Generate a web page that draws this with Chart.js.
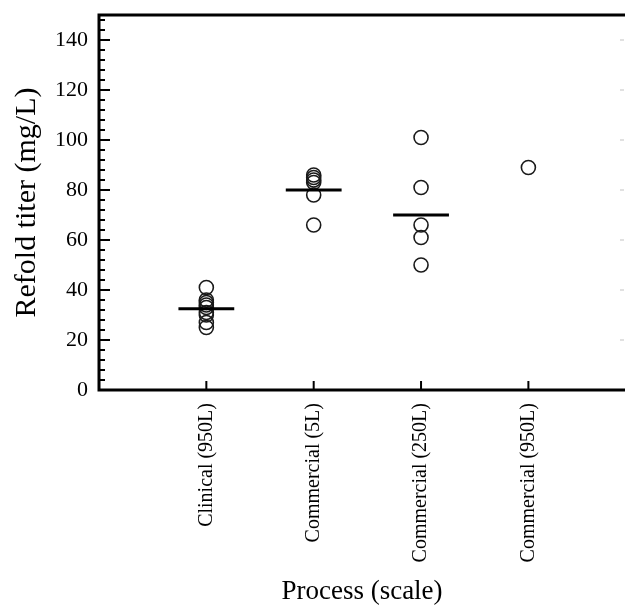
<!DOCTYPE html>
<html>
<head>
<meta charset="utf-8">
<script src="https://cdn.jsdelivr.net/npm/chart.js@4.4.1/dist/chart.umd.min.js"></script>
<style>
  html,body{margin:0;padding:0;background:#fff;}
  #wrap{width:625px;height:605px;}
</style>
</head>
<body>
<div id="wrap"><canvas id="c" width="625" height="605"></canvas></div>
<script>
// ---- data ----
const categories = ["Clinical (950L)", "Commercial (5L)", "Commercial (250L)", "Commercial (950L)"];
const clinical950 = [41, 36, 35, 34, 33, 31, 30, 27, 25];
const commercial5 = [86, 85, 84, 83, 78, 66];
const commercial250 = [101, 81, 66, 61, 50];
const commercial950 = [89];
const groupMeans = [32.5, 80, 70, null];
const yTickLabels = [0, 20, 40, 60, 80, 100, 120, 140];
const yMinorStep = 4;

const groups = [clinical950, commercial5, commercial250, commercial950];
const FONT = "'Liberation Serif', 'Times New Roman', serif";

const pointData = [];
groups.forEach((vals, i) => vals.forEach(v => pointData.push({x: i + 1, y: v})));

const datasets = [{
  type: 'scatter',
  label: 'runs',
  data: pointData,
  pointStyle: 'circle',
  pointRadius: 7,
  pointHoverRadius: 7,
  pointBorderWidth: 1.6,
  borderColor: '#1a1a1a',
  backgroundColor: 'rgba(0,0,0,0)',
  order: 2
}];
groupMeans.forEach((m, i) => {
  if (m === null) return;
  datasets.push({
    type: 'line',
    label: 'mean ' + categories[i],
    data: [{x: i + 1 - 0.26, y: m}, {x: i + 1 + 0.26, y: m}],
    borderColor: '#000',
    borderWidth: 3,
    pointRadius: 0,
    fill: false,
    order: 1
  });
});

const framePlugin = {
  id: 'frame',
  afterDraw(chart) {
    const {ctx, chartArea: {left, right, top, bottom}, scales: {x, y}} = chart;
    ctx.save();
    ctx.strokeStyle = '#000';
    ctx.lineWidth = 3;
    ctx.lineCap = 'square';
    ctx.beginPath();
    ctx.moveTo(right + 5, top); ctx.lineTo(left, top); ctx.lineTo(left, bottom); ctx.lineTo(right + 5, bottom);
    ctx.stroke();
    ctx.lineCap = 'butt';
    ctx.lineWidth = 2;
    ctx.beginPath();
    for (let v = 0; v <= y.max; v += yMinorStep) {
      const py = Math.round(y.getPixelForValue(v));
      const major = yTickLabels.includes(v);
      ctx.moveTo(left, py); ctx.lineTo(left + (major ? 11 : 6), py);
    }
    for (let i = 0; i < categories.length; i++) {
      const px = x.getPixelForValue(i + 1);
      ctx.moveTo(px, bottom); ctx.lineTo(px, bottom - 9);
    }
    ctx.stroke();
    // faint mirrored ticks of the cut-off right axis
    ctx.strokeStyle = '#d8d8d8';
    ctx.lineWidth = 1.5;
    ctx.beginPath();
    yTickLabels.forEach(v => {
      if (v === 0) return;
      const py = y.getPixelForValue(v);
      ctx.moveTo(right - 5, py); ctx.lineTo(right - 1, py);
    });
    ctx.stroke();
    ctx.restore();
  }
};

new Chart(document.getElementById('c'), {
  data: {datasets},
  options: {
    responsive: false,
    animation: false,
    devicePixelRatio: 1,
    layout: {autoPadding: false, padding: {top: 15, right: 0, bottom: 0, left: 0}},
    plugins: {legend: {display: false}, tooltip: {enabled: false}},
    scales: {
      x: {
        type: 'linear',
        min: 0, max: 4.9,
        grid: {display: false},
        border: {display: false},
        afterBuildTicks: s => { s.ticks = categories.map((c, i) => ({value: i + 1})); },
        afterFit: s => { s.height = 215; s.paddingLeft = 0; s.paddingRight = 0; },
        ticks: {
          autoSkip: false,
          minRotation: 90, maxRotation: 90,
          padding: 5,
          color: '#000',
          font: {family: FONT, size: 20},
          callback: v => categories[v - 1]
        },
        title: {
          display: true, text: 'Process (scale)', color: '#000',
          font: {family: FONT, size: 27, lineHeight: 1},
          padding: {top: 0, bottom: 0}
        }
      },
      y: {
        type: 'linear',
        min: 0, max: 150,
        grid: {display: false},
        border: {display: false},
        afterBuildTicks: s => { s.ticks = yTickLabels.map(v => ({value: v})); },
        afterFit: s => { s.width = 99; s.paddingTop = 0; s.paddingBottom = 0; },
        ticks: {
          padding: 3,
          color: '#000',
          font: {family: FONT, size: 22}
        },
        title: {
          display: true, text: 'Refold titer (mg/L)', color: '#000',
          font: {family: FONT, size: 30, lineHeight: 1},
          padding: {top: 12, bottom: 0}
        }
      }
    }
  },
  plugins: [framePlugin]
});
</script>
</body>
</html>
